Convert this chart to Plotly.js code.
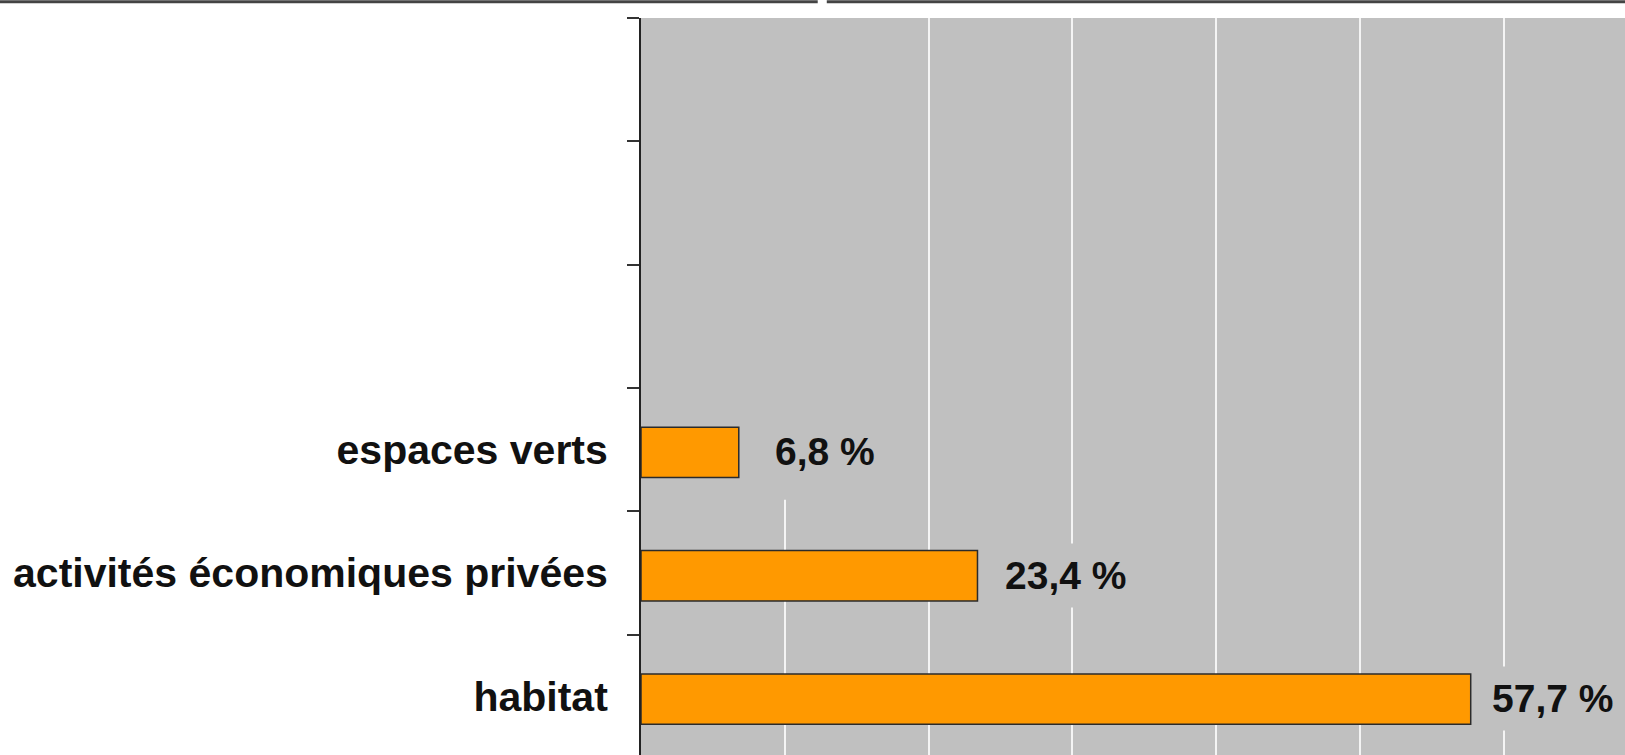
<!DOCTYPE html>
<html>
<head>
<meta charset="utf-8">
<script src="https://cdn.plot.ly/plotly-3.0.1.min.js"></script>
<style>
html,body{margin:0;padding:0;background:#fff;}
#chart{width:1625px;height:755px;}
</style>
</head>
<body>
<div id="chart"></div>
<script>
// Data (bottom to top); three empty slots at the top of the axis
const categories = ["habitat", "activités économiques privées", "espaces verts", " ", "  ", "   "];
const shares = [57.7, 23.4, 6.8, null, null, null];
const labelTexts = ["57,7 %", "23,4 %", "6,8 %"];

const FONT = "Liberation Sans, Arial, Helvetica, sans-serif";

const trace = {
  type: "bar",
  orientation: "h",
  y: categories,
  x: shares,
  width: 0.408,
  offset: -0.226,
  marker: {color: "#FF9900", line: {color: "#2b2b2b", width: 1.5}},
  hoverinfo: "x+y",
  cliponaxis: false
};

const labelShift = [20, 27, 35];
const annotations = labelTexts.map((t, i) => ({
  x: shares[i], y: categories[i], xref: "x", yref: "y",
  text: t, showarrow: false, xanchor: "left", yanchor: "middle",
  xshift: labelShift[i] - 10, yshift: -2,
  font: {family: FONT, size: 39, color: "#111", weight: 700},
  bgcolor: "#C0C0C0", borderpad: 10
}));

const layout = {
  width: 1625, height: 755,
  margin: {l: 641, r: 0, t: 18, b: 0, pad: 0},
  paper_bgcolor: "#ffffff",
  plot_bgcolor: "#C0C0C0",
  showlegend: false,
  font: {family: FONT},
  xaxis: {
    range: [0, 68.43], dtick: 10, tick0: 0,
    showgrid: true, gridcolor: "#F4F4F4", gridwidth: 2,
    zeroline: false, showticklabels: false, ticks: "", showline: false,
    fixedrange: true
  },
  yaxis: {
    type: "category",
    categoryorder: "array", categoryarray: categories,
    range: [-0.475, 5.5],
    tickson: "boundaries",
    ticks: "outside", ticklen: 12, tickwidth: 2, tickcolor: "#333",
    showline: true, linecolor: "#222", linewidth: 2,
    showgrid: false, zeroline: false,
    ticklabelstandoff: 23,
    tickfont: {family: FONT, size: 41, color: "#111", weight: 700},
    fixedrange: true
  },
  annotations: annotations,
  shapes: [
    // patch hiding the 10 % gridline above the "espaces verts" label
    {type: "rect", xref: "x", yref: "paper", x0: 9.6, x1: 10.4, y0: 0.3465, y1: 1,
     fillcolor: "#C0C0C0", line: {width: 0}, layer: "above"},
    // dark rule along the top edge of the page
    {type: "line", xref: "paper", yref: "paper", x0: -0.66, x1: 0.1796, y0: 1.0222, y1: 1.0222,
     line: {color: "#444", width: 3}},
    {type: "line", xref: "paper", yref: "paper", x0: 0.1888, x1: 1.01, y0: 1.0222, y1: 1.0222,
     line: {color: "#444", width: 3}}
  ]
};

Plotly.newPlot("chart", [trace], layout, {displayModeBar: false, staticPlot: true});
</script>
</body>
</html>
